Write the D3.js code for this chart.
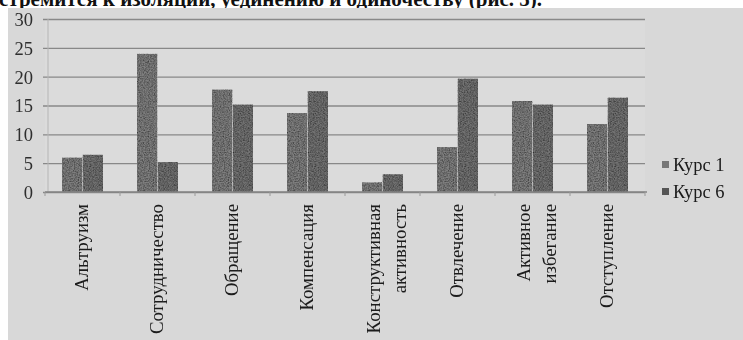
<!DOCTYPE html>
<html>
<head>
<meta charset="utf-8">
<script src="https://cdn.jsdelivr.net/npm/d3@7"></script>
<style>
  html, body { margin: 0; padding: 0; background: #ffffff; }
  svg { display: block; }
</style>
</head>
<body>
<svg id="chart" width="743" height="340"></svg>
<script>
// Coping strategies, scores by course
const categories = [
  ["Альтруизм"],
  ["Сотрудничество"],
  ["Обращение"],
  ["Компенсация"],
  ["Конструктивная", "активность"],
  ["Отвлечение"],
  ["Активное", "избегание"],
  ["Отступление"]
];
const seriesNames = ["Курс 1", "Курс 6"];
const course1 = [6, 24, 17.8, 13.7, 1.7, 7.8, 15.8, 11.8];
const course6 = [6.5, 5.2, 15.2, 17.5, 3.1, 19.7, 15.2, 16.4];
const yTicks = [0, 5, 10, 15, 20, 25, 30];
const captionText = "стремится к изоляции, уединению и одиночеству (рис. 5).";

const svg = d3.select("#chart");
const W = 743, H = 340;

// grain texture for the bars
const defs = svg.append("defs");
const grain = defs.append("filter").attr("id", "grain")
  .attr("x", 0).attr("y", 0).attr("width", "100%").attr("height", "100%")
  .attr("color-interpolation-filters", "sRGB");
grain.append("feTurbulence").attr("type", "fractalNoise")
  .attr("baseFrequency", 0.8).attr("numOctaves", 2).attr("seed", 7).attr("result", "noise");
grain.append("feColorMatrix").attr("in", "noise").attr("type", "matrix")
  .attr("values", "0.65 0.65 0 0 0.2  0.65 0.65 0 0 0.2  0.65 0.65 0 0 0.2  0 0 0 0 1")
  .attr("result", "gray");
grain.append("feBlend").attr("in", "SourceGraphic").attr("in2", "gray")
  .attr("mode", "multiply").attr("result", "blend");
grain.append("feComposite").attr("in", "blend").attr("in2", "SourceGraphic")
  .attr("operator", "in");

const soft = defs.append("filter").attr("id", "soft");
soft.append("feGaussianBlur").attr("stdDeviation", 0.5);

// caption line above the chart (runs off the page top)
svg.append("text")
  .attr("x", -1).attr("y", 6)
  .attr("font-family", "Liberation Serif, Times New Roman, serif")
  .attr("font-weight", "bold")
  .attr("font-size", 21)
  .attr("fill", "#111")
  .text(captionText);

// chart background
svg.append("rect")
  .attr("x", 8).attr("y", 8).attr("width", W - 8).attr("height", H - 8)
  .attr("fill", "#d8d8d8");

const plot = { left: 45, right: 645, top: 19, bottom: 192 };

const x0 = d3.scaleBand()
  .domain(d3.range(categories.length))
  .range([plot.left, plot.right])
  .paddingInner(0.453).paddingOuter(0.2265);
const x1 = d3.scaleBand().domain([0, 1]).range([0, x0.bandwidth()]);
const y = d3.scaleLinear().domain([0, 30]).range([plot.bottom, plot.top]);

const g = svg.append("g").attr("filter", "url(#soft)");

// plot area fill
g.append("rect")
  .attr("x", plot.left).attr("y", plot.top)
  .attr("width", plot.right - plot.left).attr("height", plot.bottom - plot.top)
  .attr("fill", "#dbdbdb");

// horizontal gridlines with short ticks on the left
const yAxis = d3.axisLeft(y).tickValues(yTicks)
  .tickSize(-(plot.right - plot.left) - 5).tickPadding(12).tickFormat(d3.format("d"));
const yAx = g.append("g").attr("transform", `translate(${plot.left + 3},0)`).call(yAxis);
yAx.select(".domain").remove();
yAx.selectAll(".tick line").attr("stroke", "#888888").attr("stroke-width", 1.3)
  .attr("x1", -5).attr("x2", plot.right - plot.left - 3);
yAx.selectAll(".tick text")
  .attr("font-family", "Liberation Serif, Times New Roman, serif")
  .attr("font-size", 18.5).attr("fill", "#2e2e2e").attr("x", -15).attr("dy", "0.35em");

// vertical axis line
g.append("line")
  .attr("x1", plot.left + 3).attr("x2", plot.left + 3)
  .attr("y1", plot.top).attr("y2", plot.bottom)
  .attr("stroke", "#b5b5b5").attr("stroke-width", 1);

// bars
const series = [course1, course6];
const barFill = ["#7f7f7f", "#727272"];
const groups = g.append("g").selectAll("g")
  .data(categories.map((c, i) => i))
  .join("g")
  .attr("transform", i => `translate(${x0(i)},0)`);
groups.selectAll("rect")
  .data(i => series.map((s, k) => ({ k, v: s[i] })))
  .join("rect")
  .attr("x", d => x1(d.k))
  .attr("y", d => y(d.v))
  .attr("width", x1.bandwidth())
  .attr("height", d => y(0) - y(d.v))
  .attr("fill", d => barFill[d.k])
  .attr("filter", "url(#grain)");

// category axis
const step = x0.step();
const xAxisG = g.append("g").attr("transform", `translate(0,${plot.bottom})`);
xAxisG.append("line")
  .attr("x1", plot.left).attr("x2", plot.right + 2)
  .attr("stroke", "#858585").attr("stroke-width", 1.3);
xAxisG.selectAll("line.tick")
  .data(d3.range(categories.length + 1))
  .join("line").attr("class", "tick")
  .attr("x1", i => plot.left + i * step).attr("x2", i => plot.left + i * step)
  .attr("y1", 0).attr("y2", 4)
  .attr("stroke", "#9a9a9a");

// rotated category labels
const labelTop = 204;
categories.forEach((lines, i) => {
  const cx = x0(i) + x0.bandwidth() / 2;
  const offsets = lines.length > 1 ? [-2.5, 23] : [5.5];
  lines.forEach((txt, j) => {
    g.append("text")
      .attr("transform", `translate(${cx + offsets[j]},${labelTop}) rotate(-90)`)
      .attr("text-anchor", "end")
      .attr("font-family", "Liberation Serif, Times New Roman, serif")
      .attr("font-size", 18.8)
      .attr("fill", "#1a1a1a")
      .text(txt);
  });
});

// legend
const legend = g.append("g");
const legendRows = [171, 198];
seriesNames.forEach((name, k) => {
  legend.append("rect")
    .attr("x", 662).attr("y", legendRows[k] - 10)
    .attr("width", 7).attr("height", 7)
    .attr("fill", k === 0 ? "#777777" : "#555555");
  legend.append("text")
    .attr("x", 673).attr("y", legendRows[k])
    .attr("font-family", "Liberation Serif, Times New Roman, serif")
    .attr("font-size", 18.5).attr("fill", "#1a1a1a")
    .text(name);
});
</script>
</body>
</html>
